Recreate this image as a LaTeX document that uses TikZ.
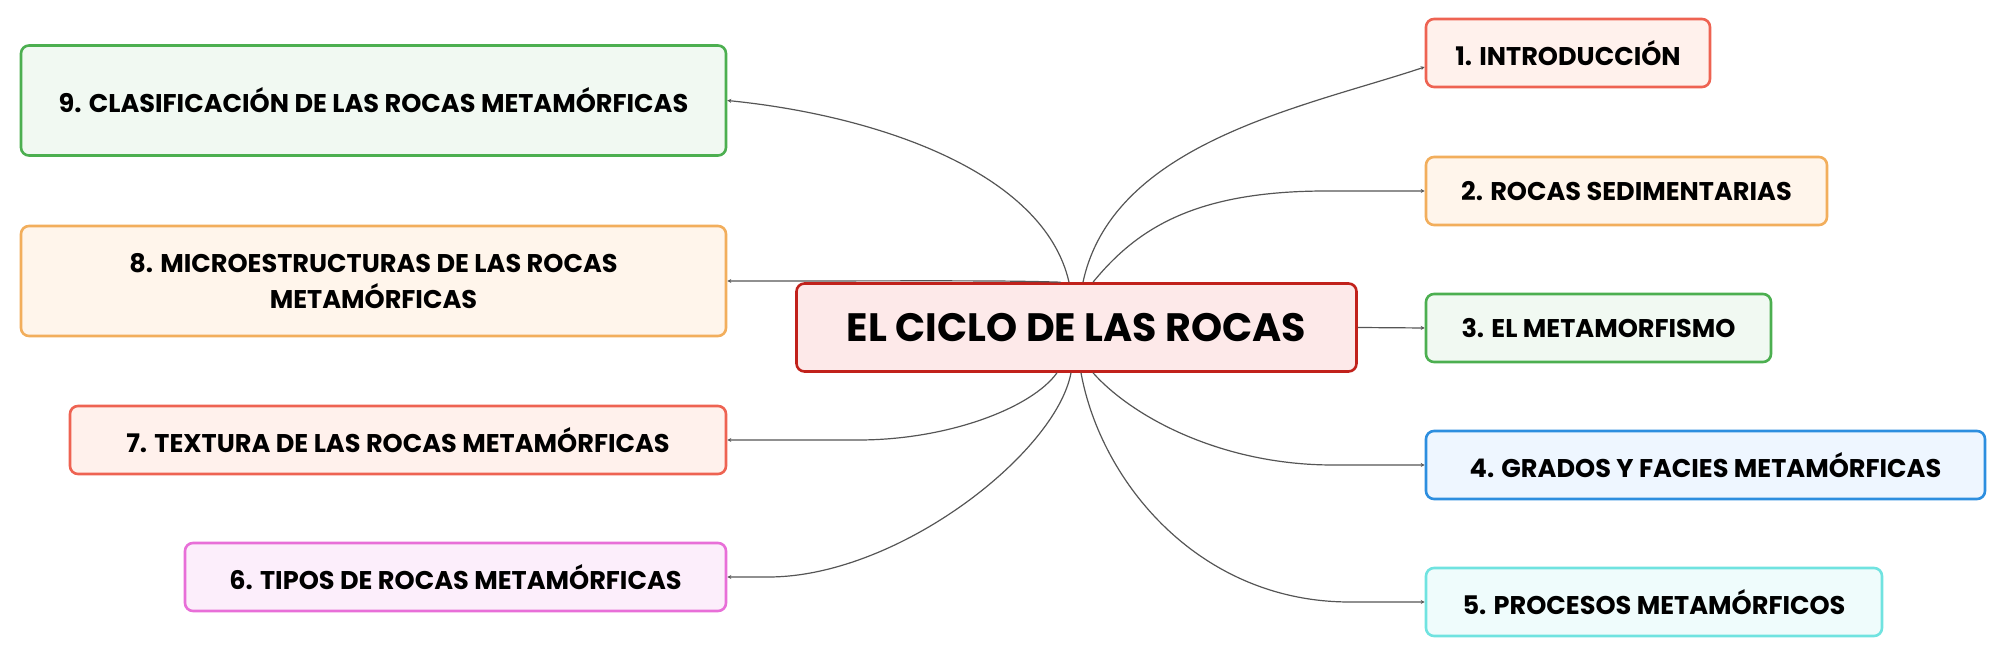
\documentclass[tikz,border=0pt]{standalone}
\usepackage{fontspec}
\setmainfont{Poppins}
\usetikzlibrary{arrows.meta}
\definecolor{linegray}{HTML}{555555}
\definecolor{redC}{HTML}{C1211B}\definecolor{redF}{HTML}{FDE9E9}
\definecolor{coralC}{HTML}{EE6352}\definecolor{coralF}{HTML}{FFF1EC}
\definecolor{orangeC}{HTML}{F2AE5C}\definecolor{orangeF}{HTML}{FFF5EB}
\definecolor{greenC}{HTML}{4CAF50}\definecolor{greenF}{HTML}{F1F9F2}
\definecolor{blueC}{HTML}{2C8EDF}\definecolor{blueF}{HTML}{EEF6FF}
\definecolor{cyanC}{HTML}{70E3E0}\definecolor{cyanF}{HTML}{EFFCFC}
\definecolor{pinkC}{HTML}{E86FD8}\definecolor{pinkF}{HTML}{FCEEFB}
\begin{document}
\begin{tikzpicture}[x=0.5pt,y=-0.5pt,
	topic/.style={draw,rounded corners=4pt,line width=1.3pt,inner sep=0pt,align=center,minimum height=34pt,font=\bfseries\fontsize{12.8}{18}\selectfont},
	link/.style={linegray,line width=0.6pt,-{Stealth[length=2pt,width=2pt]}}]
	\useasboundingbox (0,0) rectangle (2008,656);
	% centro
	\node[topic,draw=redC,fill=redF,minimum width=280pt,minimum height=44pt,font=\bfseries\fontsize{19.8}{24}\selectfont] (ctr) at (1076.5,327.5) {EL CICLO DE LAS ROCAS};
	% derecha
	\node[topic,draw=coralC,fill=coralF,minimum width=142pt] (n1) at (1568,53) {1. INTRODUCCIÓN};
	\node[topic,draw=orangeC,fill=orangeF,minimum width=200.5pt] (n2) at (1626.5,191) {2. ROCAS SEDIMENTARIAS};
	\node[topic,draw=greenC,fill=greenF,minimum width=172.5pt] (n3) at (1598.5,328) {3. EL METAMORFISMO};
	\node[topic,draw=blueC,fill=blueF,minimum width=279.5pt] (n4) at (1705.5,465) {4. GRADOS Y FACIES METAMÓRFICAS};
	\node[topic,draw=cyanC,fill=cyanF,minimum width=228pt] (n5) at (1654,602) {5. PROCESOS METAMÓRFICOS};
	% izquierda
	\node[topic,draw=pinkC,fill=pinkF,minimum width=270.5pt] (n6) at (455.5,577) {6. TIPOS DE ROCAS METAMÓRFICAS};
	\node[topic,draw=coralC,fill=coralF,minimum width=328pt] (n7) at (398,440) {7. TEXTURA DE LAS ROCAS METAMÓRFICAS};
	\node[topic,draw=orangeC,fill=orangeF,minimum width=352.5pt,minimum height=55pt] (n8) at (373.5,281) {8. MICROESTRUCTURAS DE LAS ROCAS\\METAMÓRFICAS};
	\node[topic,draw=greenC,fill=greenF,minimum width=352.5pt,minimum height=55pt] (n9) at (373.5,100.5) {9. CLASIFICACIÓN DE LAS ROCAS METAMÓRFICAS};
	% ramas
	\draw[link] ([xshift=3.25pt]ctr.north) .. controls +(30,-140) and +(-120,40) .. ([yshift=-7pt]n1.west);
	\draw[link] ([xshift=8.25pt]ctr.north) .. controls +(45,-55) and +(-130,0) .. ([xshift=-49pt]n2.west) -- (n2.west);
	\draw[link] (ctr.east) -- (n3.west);
	\draw[link] ([xshift=8.25pt]ctr.south) .. controls +(40,45) and +(-110,0) .. ([xshift=-46pt]n4.west) -- (n4.west);
	\draw[link] ([xshift=2.25pt]ctr.south) .. controls +(20,110) and +(-150,0) .. ([xshift=-37.5pt]n5.west) -- (n5.west);
	\draw[link] ([xshift=-2.75pt]ctr.south) .. controls +(-15,80) and +(130,0) .. ([xshift=20.5pt]n6.east) -- (n6.east);
	\draw[link] ([xshift=-9.75pt]ctr.south) .. controls +(-25,35) and +(90,0) .. ([xshift=65.5pt]n7.east) -- (n7.east);
	\draw[link] ([xshift=-8pt]ctr.north) .. controls +(-60,-2) and +(200,0) .. (n8.east);
	\draw[link] ([xshift=-3.75pt]ctr.north) .. controls +(-25,-110) and +(150,15) .. (n9.east);
\end{tikzpicture}
\end{document}
